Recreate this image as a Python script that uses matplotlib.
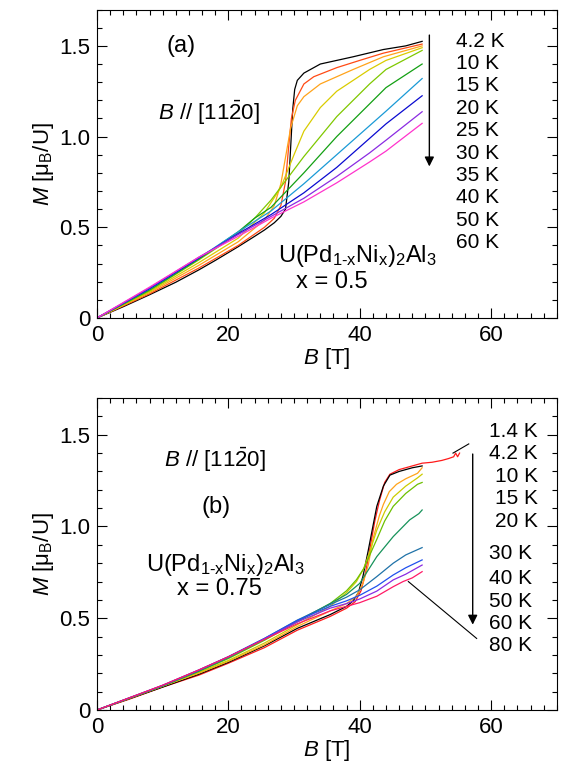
import matplotlib
matplotlib.use("Agg")
import matplotlib.pyplot as plt
from matplotlib.ticker import MultipleLocator, FuncFormatter

plt.rcParams['font.family'] = ['Liberation Sans', 'DejaVu Sans']
plt.rcParams['mathtext.fontset'] = 'custom'
plt.rcParams['mathtext.rm'] = 'Liberation Sans'
plt.rcParams['mathtext.it'] = 'Liberation Sans:italic'
plt.rcParams['mathtext.bf'] = 'Liberation Sans:bold'

# ---------------- panel (a): x = 0.5 ----------------
temps_a = ['4.2 K', '10 K', '15 K', '20 K', '25 K', '30 K', '35 K', '40 K', '50 K', '60 K']
colors_a = ['#000000', '#ff4a14', '#ffa31a', '#d9cc00', '#7fc800', '#13a013',
            '#1a9ad6', '#0a0ad0', '#8a2be2', '#ff33cc']

B_a_42 = [0, 4, 8, 12, 15.5, 18, 21.5, 24, 25.5, 27, 28, 28.7, 29.2, 29.5, 29.8, 30.1, 30.5, 31.5, 34, 39, 43.6, 47, 49.5]
M_a_42 = [0, 0.062, 0.128, 0.197, 0.265, 0.317, 0.393, 0.45, 0.485, 0.525, 0.56, 0.60, 0.75, 0.95, 1.15, 1.26, 1.31, 1.35, 1.40, 1.44, 1.48, 1.50, 1.525]
B_a_10 = [0, 8, 15.5, 21.5, 25.5, 27, 28, 28.7, 29.2, 29.6, 30.2, 31.5, 33, 36.5, 40, 43.6, 49.5]
M_a_10 = [0, 0.133, 0.275, 0.40, 0.50, 0.55, 0.62, 0.75, 0.95, 1.10, 1.20, 1.29, 1.33, 1.38, 1.42, 1.46, 1.51]
B_a_15 = [0, 8, 15.5, 21.5, 25.5, 27, 28, 29.5, 30.5, 31.5, 34, 39, 43.6, 49.5]
M_a_15 = [0, 0.14, 0.29, 0.42, 0.54, 0.62, 0.74, 1.05, 1.17, 1.22, 1.29, 1.37, 1.44, 1.50]
B_a_20 = [0, 8, 15.5, 21.5, 25.5, 28, 30, 31.5, 34, 36.5, 41.5, 44, 49.5]
M_a_20 = [0, 0.145, 0.305, 0.44, 0.58, 0.72, 0.90, 1.03, 1.16, 1.25, 1.37, 1.42, 1.49]
B_a_25 = [0, 8, 15.5, 21.5, 24, 26.5, 29, 31.5, 34, 36.5, 41.5, 44, 49.5]
M_a_25 = [0, 0.15, 0.32, 0.465, 0.55, 0.65, 0.77, 0.89, 1.00, 1.11, 1.29, 1.37, 1.475]
B_a_30 = [0, 8, 15.5, 21.5, 24, 26.5, 31.5, 36.5, 41.5, 44, 49.5]
M_a_30 = [0, 0.155, 0.325, 0.475, 0.55, 0.61, 0.80, 1.00, 1.18, 1.27, 1.40]
B_a_35 = [0, 8, 15.5, 21.5, 26.5, 31.5, 36.5, 41.5, 44, 49.5]
M_a_35 = [0, 0.16, 0.33, 0.475, 0.59, 0.74, 0.90, 1.06, 1.14, 1.32]
B_a_40 = [0, 8, 15.5, 21.5, 26.5, 31.5, 36.5, 41.5, 44, 49.5]
M_a_40 = [0, 0.162, 0.33, 0.465, 0.57, 0.69, 0.83, 0.99, 1.07, 1.225]
B_a_50 = [0, 8, 15.5, 21.5, 26.5, 31.5, 36.5, 41.5, 44, 49.5]
M_a_50 = [0, 0.166, 0.335, 0.46, 0.56, 0.66, 0.78, 0.91, 0.98, 1.137]
B_a_60 = [0, 8, 15.5, 21.5, 26.5, 31.5, 36.5, 41.5, 44, 49.5]
M_a_60 = [0, 0.17, 0.335, 0.45, 0.55, 0.64, 0.745, 0.86, 0.92, 1.073]

curves_a = [(B_a_42, M_a_42), (B_a_10, M_a_10), (B_a_15, M_a_15), (B_a_20, M_a_20),
            (B_a_25, M_a_25), (B_a_30, M_a_30), (B_a_35, M_a_35), (B_a_40, M_a_40),
            (B_a_50, M_a_50), (B_a_60, M_a_60)]

# ---------------- panel (b): x = 0.75 ----------------
temps_b = ['1.4 K', '4.2 K', '10 K', '15 K', '20 K', '30 K', '40 K', '50 K', '60 K', '80 K']
colors_b = ['#ff1a1a', '#000000', '#ffa31a', '#cccc00', '#6cc000', '#16925a',
            '#1f72a8', '#2050ee', '#8a2be2', '#ff1a66']

B_b_14 = [0, 5, 10, 15.5, 20, 25.5, 30.5, 35.5, 38, 39.3, 40.2, 40.9, 41.6, 42.3, 43, 43.8, 44.6, 46, 48, 49.5, 51, 52.5, 53.5, 54.3, 54.6, 54.9, 55.2]
M_b_14 = [0, 0.06, 0.125, 0.19, 0.255, 0.34, 0.435, 0.51, 0.555, 0.59, 0.65, 0.75, 0.89, 1.03, 1.14, 1.24, 1.285, 1.31, 1.33, 1.345, 1.35, 1.36, 1.37, 1.38, 1.40, 1.38, 1.40]
B_b_42 = [0, 10, 15.5, 20, 25.5, 30.5, 35.5, 38, 39, 39.8, 40.5, 41.3, 42.0, 42.6, 43.6, 44.6, 46, 48, 49.5]
M_b_42 = [0, 0.125, 0.195, 0.26, 0.35, 0.445, 0.52, 0.565, 0.595, 0.64, 0.73, 0.87, 1.00, 1.11, 1.22, 1.28, 1.30, 1.32, 1.33]
B_b_10 = [0, 10, 15.5, 20, 25.5, 30.5, 35.5, 38, 39.5, 40.5, 41.3, 42, 43, 43.6, 44.5, 45.6, 47, 48.8, 49.5]
M_b_10 = [0, 0.13, 0.20, 0.265, 0.355, 0.455, 0.54, 0.58, 0.62, 0.69, 0.79, 0.93, 1.06, 1.12, 1.19, 1.23, 1.26, 1.29, 1.32]
B_b_15 = [0, 10, 15.5, 20, 25.5, 30.5, 35.5, 38, 39.5, 40.6, 41.6, 42.6, 43.8, 45.1, 47, 48.8, 49.5]
M_b_15 = [0, 0.13, 0.205, 0.27, 0.365, 0.465, 0.565, 0.64, 0.70, 0.77, 0.87, 0.98, 1.08, 1.16, 1.22, 1.265, 1.285]
B_b_20 = [0, 10, 15.5, 20, 25.5, 30.5, 35.5, 38, 39.5, 40.6, 41.6, 42.6, 43.8, 45.1, 47, 48.8, 49.5]
M_b_20 = [0, 0.13, 0.21, 0.28, 0.38, 0.48, 0.58, 0.65, 0.71, 0.77, 0.85, 0.93, 1.03, 1.11, 1.18, 1.23, 1.24]
B_b_30 = [0, 10, 15.5, 20, 25.5, 30.5, 35.5, 38, 40, 42.6, 45.1, 47.6, 49, 49.5]
M_b_30 = [0, 0.132, 0.212, 0.285, 0.385, 0.485, 0.58, 0.63, 0.69, 0.836, 0.945, 1.036, 1.07, 1.09]
B_b_40 = [0, 10, 15.5, 20, 25.5, 30.5, 35.5, 38, 40, 42.6, 45.1, 47, 49.5]
M_b_40 = [0, 0.133, 0.215, 0.29, 0.39, 0.49, 0.575, 0.615, 0.655, 0.727, 0.80, 0.845, 0.885]
B_b_50 = [0, 10, 15.5, 20, 25.5, 30.5, 35.5, 38, 40, 42.6, 45.1, 47, 49.5]
M_b_50 = [0, 0.134, 0.218, 0.29, 0.39, 0.488, 0.565, 0.595, 0.625, 0.675, 0.736, 0.775, 0.818]
B_b_60 = [0, 10, 15.5, 20, 25.5, 30.5, 35.5, 38, 40, 42.6, 45.1, 47, 49.5]
M_b_60 = [0, 0.135, 0.218, 0.29, 0.388, 0.48, 0.555, 0.58, 0.605, 0.648, 0.709, 0.74, 0.79]
B_b_80 = [0, 10, 15.5, 20, 25.5, 30.5, 35.5, 38, 40, 42.6, 45.1, 46.6, 48, 49.5]
M_b_80 = [0, 0.135, 0.218, 0.29, 0.385, 0.47, 0.54, 0.565, 0.585, 0.62, 0.672, 0.70, 0.72, 0.754]

curves_b = [(B_b_14, M_b_14), (B_b_42, M_b_42), (B_b_10, M_b_10), (B_b_15, M_b_15),
            (B_b_20, M_b_20), (B_b_30, M_b_30), (B_b_40, M_b_40), (B_b_50, M_b_50),
            (B_b_60, M_b_60), (B_b_80, M_b_80)]

# label positions (in data units)
label_y_a = [1.524, 1.405, 1.281, 1.157, 1.033, 0.908, 0.785, 0.662, 0.537, 0.415]
label_y_b = [1.517, 1.396, 1.272, 1.150, 1.027, 0.852, 0.718, 0.594, 0.473, 0.351]

fig = plt.figure(figsize=(5.67, 7.69), dpi=100)
ax1 = fig.add_axes([0.171, 0.5865, 0.811, 0.401])
ax2 = fig.add_axes([0.171, 0.0767, 0.811, 0.4057])

fs = 16
formula = r'U(Pd$_{\rm 1\text{-}x}$Ni$_{\rm x}$)$_{\rm 2}$Al$_{\rm 3}$'
direction = r'$B$ // [11$\bar{2}$0]'


def style(ax):
    ax.set_xlim(0, 70)
    ax.set_ylim(0, 1.7)
    ax.xaxis.set_major_locator(MultipleLocator(20))
    ax.xaxis.set_minor_locator(MultipleLocator(2))
    ax.yaxis.set_major_locator(MultipleLocator(0.5))
    ax.yaxis.set_minor_locator(MultipleLocator(0.1))
    ax.yaxis.set_major_formatter(FuncFormatter(lambda v, p: '0' if v == 0 else f'{v:.1f}'))
    ax.tick_params(which='both', direction='in', top=True, right=True, labelsize=fs, width=0.8)
    ax.tick_params(which='major', length=7, pad=5)
    ax.tick_params(which='minor', length=3.5)
    for s in ax.spines.values():
        s.set_linewidth(0.8)
    ax.set_xlabel(r'$B$ [T]', fontsize=fs, labelpad=0)
    ax.set_ylabel(r'$M$ [μ$_{\rm B}$/U]', fontsize=fs, labelpad=2)


# panel (a)
for (b, m), c in zip(curves_a, colors_a):
    ax1.plot(b, m, color=c, lw=0.9)
style(ax1)
for t, y in zip(temps_a, label_y_a):
    ax1.text(54.6, y, t, fontsize=15, va='center', ha='left')
ax1.annotate('', xy=(50.6, 0.82), xytext=(50.6, 1.575),
             arrowprops=dict(arrowstyle='-|>', color='k', lw=1, mutation_scale=14))
ax1.text(12.8, 1.50, '(a)', fontsize=17, ha='center', va='center')
ax1.text(17.0, 1.13, direction, fontsize=fs, ha='center', va='center')
ax1.text(39.7, 0.34, formula, fontsize=17, ha='center', va='center')
ax1.text(35.8, 0.20, 'x = 0.5', fontsize=17, ha='center', va='center')

# panel (b)
for (b, m), c in zip(curves_b, colors_b):
    ax2.plot(b, m, color=c, lw=0.9)
style(ax2)
for i, (t, y) in enumerate(zip(temps_b, label_y_b)):
    xr = 67.1 if i < 5 else 66.2
    ax2.text(xr, y, t, fontsize=15, va='center', ha='right')
ax2.annotate('', xy=(57.2, 0.45), xytext=(57.2, 1.41),
             arrowprops=dict(arrowstyle='-|>', color='k', lw=1, mutation_scale=14))
ax2.plot([54.2, 56.6], [1.40, 1.45], color='k', lw=0.8)
ax2.plot([47.4, 57.8], [0.70, 0.39], color='k', lw=0.8)
ax2.text(17.9, 1.363, direction, fontsize=fs, ha='center', va='center')
ax2.text(18.1, 1.105, '(b)', fontsize=17, ha='center', va='center')
ax2.text(19.6, 0.79, formula, fontsize=17, ha='center', va='center')
ax2.text(18.6, 0.658, 'x = 0.75', fontsize=17, ha='center', va='center')

fig.savefig('out.png', dpi=100)
